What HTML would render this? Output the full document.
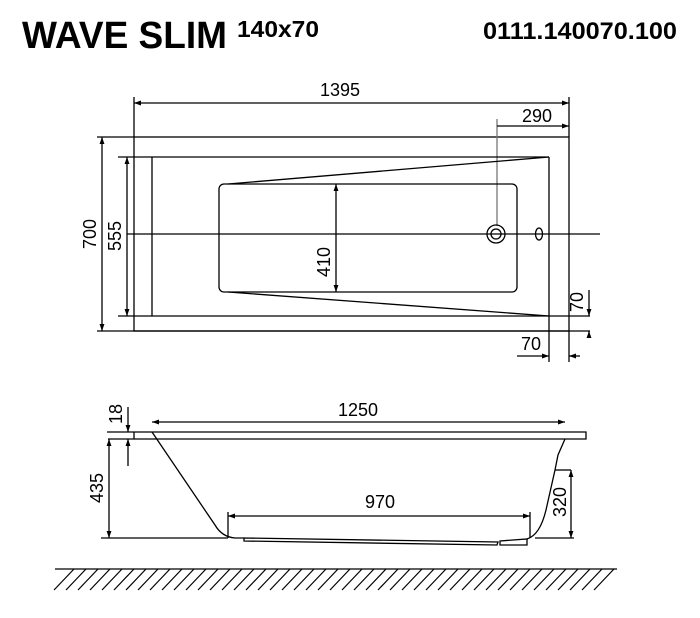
<!DOCTYPE html>
<html><head><style>html,body{margin:0;padding:0;background:#fff;}svg{display:block;}</style></head>
<body>
<svg width="700" height="618" viewBox="0 0 700 618" xmlns="http://www.w3.org/2000/svg" font-family="Liberation Sans, Arial, sans-serif">
<defs>
<marker id="a" viewBox="0 0 10 10" refX="10" refY="5" markerWidth="10" markerHeight="7" orient="auto-start-reverse" markerUnits="userSpaceOnUse"><path d="M0,1.5 L10,5 L0,8.5 z" fill="#000"/></marker>
</defs>
<text x="22" y="48" font-size="38" font-weight="bold" textLength="205" lengthAdjust="spacingAndGlyphs">WAVE SLIM</text>
<text x="237" y="37" font-size="23" font-weight="bold" textLength="82" lengthAdjust="spacingAndGlyphs">140x70</text>
<text x="483" y="39" font-size="24" font-weight="bold" textLength="194" lengthAdjust="spacingAndGlyphs">0111.140070.100</text>

<g stroke="#000" stroke-width="1.3" fill="none">
<rect x="134" y="137" width="435" height="194"/>
<line x1="134" y1="97" x2="134" y2="137"/>
<line x1="569" y1="97" x2="569" y2="137"/>
<line x1="569" y1="331" x2="569" y2="362"/>
<line x1="549" y1="316" x2="549" y2="362"/>
<line x1="134" y1="103" x2="569" y2="103" marker-start="url(#a)" marker-end="url(#a)"/>
<line x1="497" y1="119" x2="497" y2="226" stroke="#777"/>
<line x1="497" y1="126" x2="569" y2="126" marker-end="url(#a)"/>
<line x1="118" y1="157" x2="549" y2="157"/>
<line x1="118" y1="316" x2="590" y2="316"/>
<line x1="549" y1="157" x2="549" y2="316"/>
<line x1="152" y1="157" x2="152" y2="316"/>
<line x1="97" y1="137" x2="134" y2="137"/>
<line x1="97" y1="331" x2="590" y2="331"/>
<line x1="549" y1="157" x2="228" y2="184"/>
<line x1="228" y1="292" x2="549" y2="316"/>
<rect x="219" y="184" width="298" height="108" rx="5"/>
<line x1="127" y1="234" x2="600" y2="234"/>
<circle cx="496" cy="234" r="9"/><circle cx="496" cy="234" r="5"/>
<ellipse cx="539" cy="234" rx="3.5" ry="6"/>
<line x1="336" y1="184" x2="336" y2="292" marker-start="url(#a)" marker-end="url(#a)"/>
<line x1="102" y1="137" x2="102" y2="331" marker-start="url(#a)" marker-end="url(#a)"/>
<line x1="127" y1="157" x2="127" y2="316" marker-start="url(#a)" marker-end="url(#a)"/>
<line x1="517" y1="356" x2="549" y2="356" marker-end="url(#a)"/>
<line x1="580" y1="356" x2="569" y2="356" marker-end="url(#a)"/>
<line x1="589" y1="290" x2="589" y2="316" marker-end="url(#a)"/>
<line x1="589" y1="338" x2="589" y2="331" marker-end="url(#a)"/>

<path d="M107,432 L586,432 L586,439 L108,439"/>
<line x1="134" y1="432" x2="134" y2="439"/>
<line x1="101" y1="538" x2="228" y2="538"/>
<path d="M152,432 L215,525 Q222,537 235,538 L244,538"/>
<path d="M244,538 L498,542 L497,545 L244,541 Z"/>
<path d="M500,545 L500,541 L527,539 L527,545 Z"/>
<path d="M527,539 Q540,535 546,510 L555,470 L558,455 L565,439"/>
<path d="M555,470 L571,470"/>
<line x1="535" y1="538" x2="574" y2="538"/>
<line x1="109" y1="439" x2="109" y2="538" marker-start="url(#a)" marker-end="url(#a)"/>
<line x1="128" y1="407" x2="128" y2="432" marker-end="url(#a)"/>
<line x1="128" y1="466" x2="128" y2="439" marker-end="url(#a)"/>
<line x1="152" y1="422" x2="565" y2="422" marker-start="url(#a)" marker-end="url(#a)"/>
<line x1="228" y1="516" x2="530" y2="516" marker-start="url(#a)" marker-end="url(#a)"/>
<line x1="228" y1="512" x2="228" y2="538"/>
<line x1="530" y1="512" x2="530" y2="538"/>
<line x1="571" y1="470" x2="571" y2="538" marker-start="url(#a)" marker-end="url(#a)"/>
<line x1="55" y1="569" x2="617" y2="569"/>
</g>
<path stroke="#000" stroke-width="1.2" fill="none" d="
M74,569 l-20,21 M86,569 l-20,21 M98,569 l-20,21 M110,569 l-20,21 M122,569 l-20,21 M134,569 l-20,21 M146,569 l-20,21 M158,569 l-20,21 M170,569 l-20,21 M182,569 l-20,21 M194,569 l-20,21 M206,569 l-20,21 M218,569 l-20,21 M230,569 l-20,21 M242,569 l-20,21 M254,569 l-20,21 M266,569 l-20,21 M278,569 l-20,21 M290,569 l-20,21 M302,569 l-20,21 M314,569 l-20,21 M326,569 l-20,21 M338,569 l-20,21 M350,569 l-20,21 M362,569 l-20,21 M374,569 l-20,21 M386,569 l-20,21 M398,569 l-20,21 M410,569 l-20,21 M422,569 l-20,21 M434,569 l-20,21 M446,569 l-20,21 M458,569 l-20,21 M470,569 l-20,21 M482,569 l-20,21 M494,569 l-20,21 M506,569 l-20,21 M518,569 l-20,21 M530,569 l-20,21 M542,569 l-20,21 M554,569 l-20,21 M566,569 l-20,21 M578,569 l-20,21 M590,569 l-20,21 M602,569 l-20,21 M614,569 l-20,21"/>

<g font-size="18" fill="#000">
<text x="340" y="96" text-anchor="middle">1395</text>
<text x="537" y="122" text-anchor="middle">290</text>
<text x="531" y="350" text-anchor="middle">70</text>
<text transform="translate(583,302) rotate(-90)" text-anchor="middle">70</text>
<text transform="translate(96,234) rotate(-90)" text-anchor="middle">700</text>
<text transform="translate(121,236) rotate(-90)" text-anchor="middle">555</text>
<text transform="translate(330,262) rotate(-90)" text-anchor="middle">410</text>
<text x="358" y="416" text-anchor="middle">1250</text>
<text x="380" y="508" text-anchor="middle">970</text>
<text transform="translate(122,414) rotate(-90)" text-anchor="middle">18</text>
<text transform="translate(103,488) rotate(-90)" text-anchor="middle">435</text>
<text transform="translate(566,502) rotate(-90)" text-anchor="middle">320</text>
</g>
</svg>
</body></html>
